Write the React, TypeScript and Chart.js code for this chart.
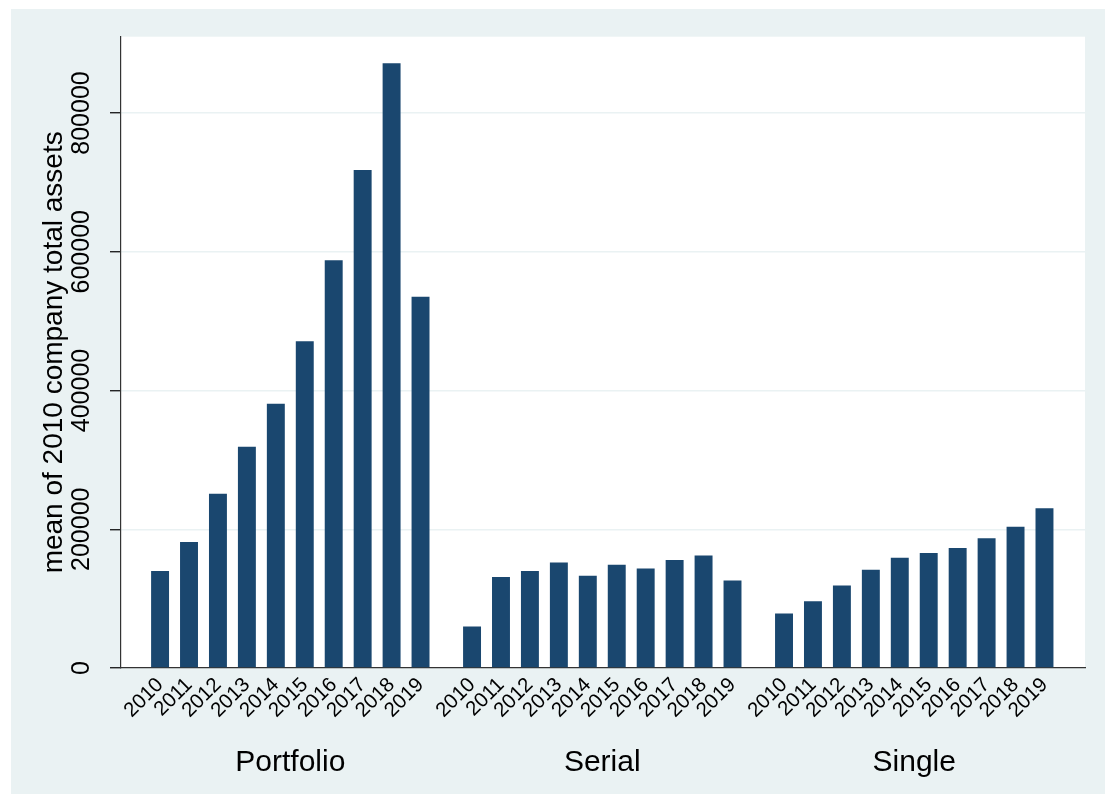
import React, { useEffect, useRef } from 'react';
import { Chart, registerables } from 'chart.js';

Chart.register(...registerables);

const groups = ['Portfolio', 'Serial', 'Single'];
const years = ['2010', '2011', '2012', '2013', '2014', '2015', '2016', '2017', '2018', '2019'];
const portfolio = [140000, 181500, 251000, 319000, 381000, 471000, 587700, 718000, 871800, 535000];
const serial = [59700, 131000, 140000, 152000, 132900, 148700, 143400, 155500, 162200, 126100];
const single = [78500, 96300, 119000, 141500, 158800, 165600, 172800, 186900, 203600, 230200];
const yTicks = [0, 200000, 400000, 600000, 800000];
const yMax = 910000;
const yTitle = 'mean of 2010 company total assets';

// layout constants
const STRIDE = 10.78;
const XMIN = -1.35;
const XMAX = 2 * STRIDE + 9 + 1.4;
const FAMILY = '"Liberation Sans", Arial, sans-serif';
const BG = '#EAF2F3';
const BAR = '#1A476F';

export default function App() {
  const ref = useRef<HTMLCanvasElement>(null);

  useEffect(() => {
    if (!ref.current) return;
    const series = [portfolio, serial, single];
    const points = series.flatMap((vals, g) => vals.map((v, i) => ({ x: g * STRIDE + i, y: v })));
    const xTickVals = points.map((p) => p.x);
    const xTickLabels = series.flatMap(() => years);
    const groupCenters = groups.map((_, g) => g * STRIDE + (years.length - 1) / 2);

    const bgPlugin = {
      id: 'bgPlugin',
      beforeDraw(chart: any) {
        const { ctx, chartArea: a, width, height } = chart;
        ctx.save();
        ctx.fillStyle = BG;
        ctx.fillRect(0, 0, width, height);
        ctx.fillStyle = '#ffffff';
        ctx.fillRect(a.left, a.top, a.right - a.left, a.bottom - a.top);
        ctx.restore();
      },
    };

    const chart = new Chart(ref.current, {
      type: 'bar',
      data: {
        datasets: [
          {
            data: points as any,
            backgroundColor: BAR,
            borderWidth: 0,
            categoryPercentage: 1,
            barPercentage: 0.62,
            xAxisID: 'x',
            yAxisID: 'y',
          },
        ],
      },
      options: {
        animation: false,
        responsive: false,
        layout: { padding: { top: 27.7, right: 20, left: 0, bottom: 0 } },
        plugins: { legend: { display: false }, tooltip: { enabled: false } },
        scales: {
          x: {
            type: 'linear',
            position: 'bottom',
            min: XMIN,
            max: XMAX,
            offset: false,
            weight: 0,
            grid: { display: false, drawTicks: false, offset: false },
            border: { display: true, color: '#333333', width: 1.2 },
            afterBuildTicks: (s: any) => {
              s.ticks = xTickVals.map((v) => ({ value: v }));
            },
            afterFit: (s: any) => {
              s.height = 60;
            },
            ticks: {
              autoSkip: false,
              minRotation: 45,
              maxRotation: 45,
              padding: 5,
              color: '#000000',
              font: { family: FAMILY, size: 20.5 },
              callback: (_v: any, i: number) => xTickLabels[i],
            },
          },
          x2: {
            type: 'linear',
            position: 'bottom',
            min: XMIN,
            max: XMAX,
            offset: false,
            weight: 1,
            grid: { display: false, drawTicks: false, offset: false },
            border: { display: false },
            afterBuildTicks: (s: any) => {
              s.ticks = groupCenters.map((v) => ({ value: v }));
            },
            afterFit: (s: any) => {
              s.height = 66;
            },
            ticks: {
              autoSkip: false,
              minRotation: 0,
              maxRotation: 0,
              padding: 16.7,
              color: '#000000',
              font: { family: FAMILY, size: 30 },
              callback: (_v: any, i: number) => groups[i],
            },
          },
          y: {
            type: 'linear',
            min: 0,
            max: yMax,
            afterBuildTicks: (s: any) => {
              s.ticks = yTicks.map((v) => ({ value: v }));
            },
            afterFit: (s: any) => {
              s.width = 110;
            },
            grid: {
              color: BG,
              lineWidth: 1.5,
              drawTicks: true,
              tickLength: 11,
              tickColor: '#000000',
              tickWidth: 1.2,
            },
            border: { display: true, color: '#333333', width: 1.2 },
            ticks: {
              minRotation: 90,
              maxRotation: 90,
              crossAlign: 'center',
              padding: -13.9,
              color: '#000000',
              font: { family: FAMILY, size: 25 },
              callback: (v: any) => String(v),
            },
            title: {
              display: true,
              text: yTitle,
              color: '#000000',
              font: { family: FAMILY, size: 28 },
              padding: { top: 26.5, bottom: 0 },
            },
          },
        },
      } as any,
      plugins: [bgPlugin],
    });

    return () => chart.destroy();
  }, []);

  return (
    <div style={{ position: 'absolute', left: 11, top: 9, width: 1094, height: 785 }}>
      <canvas ref={ref} width={1094} height={785} style={{ display: 'block', width: 1094, height: 785 }} />
    </div>
  );
}
